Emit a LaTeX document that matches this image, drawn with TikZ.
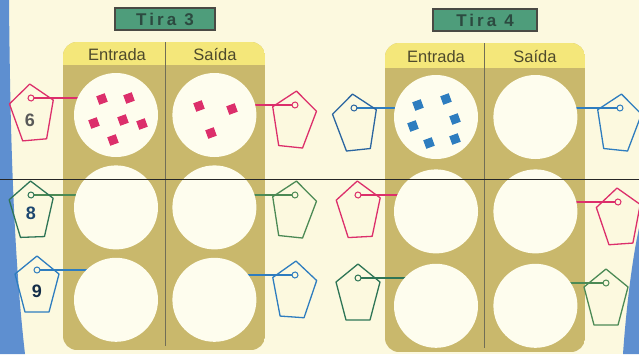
\documentclass[tikz,border=0pt]{standalone}
\usepackage{fontspec}
\setsansfont{Liberation Sans}
\newfontfamily\rotulo[LetterSpace=18]{Liberation Sans}
\usepackage{tikz}
\usetikzlibrary{shapes.geometric, positioning}

\definecolor{creme}{HTML}{FCF9DF}
\definecolor{azulfundo}{HTML}{5E8FD0}
\definecolor{caqui}{HTML}{C9B86C}
\definecolor{amarelo}{HTML}{F4E77A}
\definecolor{branco}{HTML}{FEFDEE}
\definecolor{rosa}{HTML}{DC2F6B}
\definecolor{azul}{HTML}{2E7DBF}
\definecolor{azulesc}{HTML}{2A65A0}
\definecolor{verde}{HTML}{2E7556}
\definecolor{verdeclaro}{HTML}{4C8A55}
\definecolor{tiraverde}{HTML}{4E9D7B}
\definecolor{textoolivo}{HTML}{4E4A2C}
\definecolor{textotira}{HTML}{2C4A40}
\definecolor{cinzaesc}{HTML}{4A4A44}

\pgfdeclarelayer{fundo}
\pgfdeclarelayer{fios}
\pgfsetlayers{fundo,fios,main}

\begin{document}
\begin{tikzpicture}[
            x=1pt, y=-1pt,
            node distance=8pt and 14pt,
            circulo/.style={circle, fill=branco, minimum size=84pt, inner sep=0pt},
            cabecalho/.style={font=\sffamily\fontsize{16.5}{16.5}\selectfont, text=textoolivo, inner sep=0pt},
            caixa_tira/.style={
                draw=cinzaesc, line width=1.3pt, fill=tiraverde,
                minimum width=100pt, minimum height=22pt, inner sep=0pt,
                font=\rotulo\bfseries\fontsize{17}{17}\selectfont, text=textotira
            },
            ficha/.style={rectangle, minimum size=9pt, inner sep=0pt, rotate=20},
            numero/.style={font=\sffamily\bfseries\fontsize{18}{18}\selectfont, inner sep=0pt},
            fio/.style={line width=1.2pt},
            divisor/.style={line width=0.8pt, draw=textoolivo!80},
            etiqueta/.pic={
                \draw[pic actions, line width=1.3pt, line join=round]
                    (0,-14) -- (22,4) -- (12,42) -- (-12,42) -- (-22,4) -- cycle;
                \draw[pic actions, line width=1pt, fill=creme] (0,0) circle (3);
                \coordinate (-furo) at (0,0);
            }
        ]
            \useasboundingbox (0,0) rectangle (639,354);

            % --- Fundo da página ---
            \begin{pgfonlayer}{fundo}
                \fill[creme] (0,0) rectangle (639,354);
                \fill[azulfundo] (0,0) -- (9,0) .. controls (10,120) and (13,250) .. (25,354) -- (0,354) -- cycle;
                \fill[azulfundo] (639,228) .. controls (632,260) and (626,310) .. (623,354) -- (639,354) -- cycle;

                % Painel da tira 3
                \begin{scope}
                    \clip[rounded corners=14pt] (63,42) rectangle (265,350);
                    \fill[caqui] (63,42) rectangle (265,350);
                    \fill[amarelo] (63,42) rectangle (265,65);
                \end{scope}
                \draw[divisor] (165,42) -- (165,346);

                % Painel da tira 4
                \begin{scope}
                    \clip[rounded corners=14pt] (385,43) rectangle (585,352);
                    \fill[caqui] (385,43) rectangle (585,352);
                    \fill[amarelo] (385,43) rectangle (585,68);
                \end{scope}
                \draw[divisor] (484,43) -- (484,348);
            \end{pgfonlayer}

            % --- Rótulos das tiras ---
            \node[caixa_tira] (tira3) at (165,19) {Tira\hspace{8pt}3};
            \node[caixa_tira, minimum width=104pt] (tira4) at (485,20) {Tira\hspace{8pt}4};

            \node[cabecalho] (ent3) at (117,55) {Entrada};
            \node[cabecalho] (sai3) at (215,55) {Saída};
            \node[cabecalho] (ent4) at (436,57) {Entrada};
            \node[cabecalho] (sai4) at (535,57) {Saída};

            % --- Tira 3: círculos ---
            \node[circulo] (c3e1) at (116,115) {};
            \node[circulo, right=of c3e1] (c3s1) {};
            \node[circulo, below=of c3e1] (c3e2) {};
            \node[circulo, right=of c3e2] (c3s2) {};
            \node[circulo, below=of c3e2] (c3e3) {};
            \node[circulo, right=of c3e3] (c3s3) {};

            % --- Tira 4: círculos ---
            \node[circulo] (c4e1) at (436,117) {};
            \node[circulo, right=15pt of c4e1] (c4s1) {};
            \node[circulo, below=10pt of c4e1] (c4e2) {};
            \node[circulo, right=15pt of c4e2] (c4s2) {};
            \node[circulo, below=10pt of c4e2] (c4e3) {};
            \node[circulo, right=15pt of c4e3] (c4s3) {};

            % Fichas rosas (entrada e saída da tira 3)
            \node[ficha, fill=rosa] (r1) at (102,99) {};
            \node[ficha, fill=rosa] (r2) at (129,98) {};
            \node[ficha, fill=rosa] (r3) at (94,123) {};
            \node[ficha, fill=rosa] (r4) at (123,120) {};
            \node[ficha, fill=rosa] (r5) at (142,124) {};
            \node[ficha, fill=rosa] (r6) at (113,140) {};
            \node[ficha, fill=rosa] (r7) at (199,106) {};
            \node[ficha, fill=rosa] (r8) at (232,109) {};
            \node[ficha, fill=rosa] (r9) at (211,133) {};

            % Fichas azuis (entrada da tira 4)
            \node[ficha, fill=azul] (a1) at (418,105) {};
            \node[ficha, fill=azul] (a2) at (446,99) {};
            \node[ficha, fill=azul] (a3) at (413,126) {};
            \node[ficha, fill=azul] (a4) at (455,119) {};
            \node[ficha, fill=azul] (a5) at (429,143) {};
            \node[ficha, fill=azul] (a6) at (455,139) {};

            % --- Etiquetas pentagonais ---
            \pic[rosa, rotate=5] (e3e1) at (31,98) {etiqueta};
            \pic[rosa, rotate=-6] (e3s1) at (295,105) {etiqueta};
            \pic[verde, rotate=2] (e3e2) at (31,195) {etiqueta};
            \pic[verdeclaro, rotate=-6] (e3s2) at (295,195) {etiqueta};
            \pic[azul] (e3e3) at (37,270) {etiqueta};
            \pic[azul, rotate=-4] (e3s3) at (295,275) {etiqueta};

            \pic[azulesc, rotate=6] (e4e1) at (354,108) {etiqueta};
            \pic[azul, rotate=-6] (e4s1) at (620,108) {etiqueta};
            \pic[rosa, rotate=3] (e4e2) at (358,195) {etiqueta};
            \pic[rosa, rotate=4] (e4s2) at (618,202) {etiqueta};
            \pic[verde] (e4e3) at (358,278) {etiqueta};
            \pic[verdeclaro] (e4s3) at (606,283) {etiqueta};

            \node[numero, text=black!65] (n6) at (30,120) {6};
            \node[numero, text=azulesc!70!black] (n8) at (31,213) {8};
            \node[numero, text=azulesc!45!black] (n9) at (37,291) {9};

            % --- Fios entre etiquetas e círculos ---
            \begin{pgfonlayer}{fios}
                \draw[fio, rosa] (e3e1-furo) -- (e3e1-furo -| c3e1);
                \draw[fio, rosa] (e3s1-furo) -- (e3s1-furo -| c3s1);
                \draw[fio, verdeclaro] (e3e2-furo) -- (e3e2-furo -| c3e2);
                \draw[fio, verdeclaro] (e3s2-furo) -- (e3s2-furo -| c3s2);
                \draw[fio, azul] (e3e3-furo) -- (e3e3-furo -| c3e3);
                \draw[fio, azul] (e3s3-furo) -- (e3s3-furo -| c3s3);
                \draw[fio, azul] (e4e1-furo) -- (e4e1-furo -| c4e1);
                \draw[fio, azul] (e4s1-furo) -- (e4s1-furo -| c4s1);
                \draw[fio, rosa] (e4e2-furo) -- (e4e2-furo -| c4e2);
                \draw[fio, rosa] (e4s2-furo) -- (e4s2-furo -| c4s2);
                \draw[fio, verde] (e4e3-furo) -- (e4e3-furo -| c4e3);
                \draw[fio, verdeclaro] (e4s3-furo) -- (e4s3-furo -| c4s3);
            \end{pgfonlayer}

            % Dobra da página
            \draw[line width=0.8pt, black!85] (0,179) -- (639,179);
        \end{tikzpicture}
\end{document}
